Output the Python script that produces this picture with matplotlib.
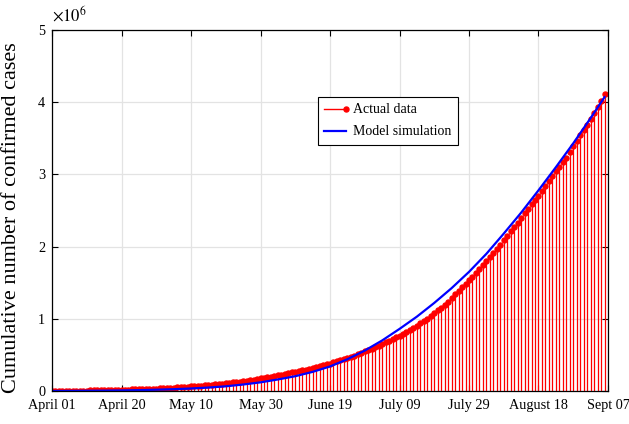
import numpy as np
import matplotlib
import matplotlib.pyplot as plt
import matplotlib.ticker as mtick
from matplotlib.lines import Line2D
from matplotlib.legend_handler import HandlerBase

matplotlib.use('agg')
plt.rcParams.update({
    "font.family": "Liberation Serif",
    "mathtext.fontset": "stix",
})

# cumulative confirmed cases, one value per day (160 days)
actual_cases = [
    1251, 1397, 1998, 2543, 2567, 3082, 3588, 4778, 5311, 5916,
    6725, 7598, 8446, 9205, 10453, 11487, 12322, 13430, 14352, 15722,
    17615, 18539, 20080, 21370, 23077, 24530, 26283, 27890, 29451, 31324,
    33062, 34863, 37257, 39699, 42505, 46437, 49400, 53005, 56351, 59695,
    62808, 67161, 70768, 74292, 78055, 81997, 85784, 90648, 95698, 100328,
    106475, 112028, 118226, 124794, 131423, 138536, 144950, 150793, 158086, 165386,
    173491, 181827, 190609, 198370, 207191, 216824, 226713, 236184, 246622, 257486,
    265928, 276146, 286605, 297535, 308993, 320922, 332424, 343091, 354065, 367264,
    380532, 395048, 410451, 425282, 440215, 456183, 473105, 490401, 508953, 528859,
    548318, 566840, 585481, 604641, 625544, 648315, 673165, 697413, 719665, 742417,
    767296, 793802, 820916, 849553, 878254, 906752, 936181, 968876, 1003832, 1038716,
    1077781, 1118043, 1155338, 1193078, 1238635, 1288108, 1337024, 1385635, 1435616, 1480073,
    1531669, 1583792, 1638870, 1695988, 1750723, 1803695, 1855745, 1908254, 1964536, 2027074,
    2088611, 2153010, 2215074, 2268675, 2329638, 2396637, 2461190, 2526192, 2589682, 2647663,
    2702742, 2767273, 2836925, 2905823, 2975701, 3044940, 3106348, 3167323, 3224547, 3310234,
    3387500, 3463972, 3542733, 3621245, 3691166, 3769523, 3853406, 3936747, 4023179, 4113811,
]
actual_days = list(range(len(actual_cases)))

# model curve (day, cases)
model_days = [0, 5, 10, 15, 20, 25, 30, 35, 40, 45, 50, 55, 60, 65, 70, 75, 80,
              85, 90, 95, 100, 105, 110, 115, 120, 125, 130, 135, 140, 145, 150, 155, 159]
model_cases = [0, 1000, 3000, 5000, 8000, 12000, 18000, 25000, 35000, 48000, 65000,
               90000, 120000, 160000, 205000, 265000, 340000, 440000, 560000, 700000,
               860000, 1030000, 1220000, 1425000, 1650000, 1900000, 2180000, 2470000,
               2780000, 3100000, 3430000, 3780000, 4070000]

tick_pos = [0, 20, 40, 60, 80, 100, 120, 140, 160]
tick_labels = ['April 01', 'April 20', 'May 10', 'May 30', 'June 19',
               'July 09', 'July 29', 'August 18', 'Sept 07']

RED = '#ff0000'
BLUE = '#0000ff'
MS = 3.6


# matlab-style stem legend entry: line with the dot at its right end
class StemLegend(HandlerBase):
    def create_artists(self, legend, orig_handle, xdescent, ydescent,
                       width, height, fontsize, trans):
        y = height / 2 - ydescent
        line = Line2D([-xdescent, width - xdescent], [y, y], color=RED, linewidth=1)
        dot = Line2D([width - xdescent], [y], color=RED, marker='o',
                     markersize=MS, linestyle='none')
        line.set_transform(trans)
        dot.set_transform(trans)
        return [line, dot]


fig = plt.figure(figsize=(6.29, 4.24), dpi=100)
ax = fig.add_axes([0.0827, 0.0778, 0.8839, 0.8514])

ml, sl, bl = ax.stem(actual_days, actual_cases, linefmt='r-', markerfmt='ro', basefmt=' ')
plt.setp(sl, linewidth=0.9, color=RED)
plt.setp(ml, markersize=MS, color=RED)
ax.plot(model_days, model_cases, color=BLUE, linewidth=1.6)

ax.set_xlim(0, 160)
ax.set_ylim(0, 5e6)
ax.set_xticks(tick_pos, tick_labels)
ax.set_yticks([0, 1e6, 2e6, 3e6, 4e6, 5e6])
ax.yaxis.set_major_formatter(mtick.FuncFormatter(lambda v, p: f'{v / 1e6:g}'))
ax.tick_params(direction='in', top=True, right=True, length=4, width=0.8,
               labelsize=10.3)
ax.tick_params(axis='x', pad=6)
ax.tick_params(axis='y', pad=5)
ax.grid(True, color='#e3e3e3', linewidth=0.9)
ax.set_axisbelow(True)
for s in ax.spines.values():
    s.set_linewidth(0.9)

ax.set_ylabel('Cumulative number of confirmed cases', fontsize=16)
ax.yaxis.set_label_coords(-0.056, 0.48)
ax.text(0.0, 1.012, r'$\times10^{6}$', transform=ax.transAxes, fontsize=12,
        ha='left', va='bottom')

stem_proxy = Line2D([], [], color=RED)
model_proxy = Line2D([], [], color=BLUE, linewidth=1.6)
leg = ax.legend([stem_proxy, model_proxy], ['Actual data', 'Model simulation'],
                handler_map={stem_proxy: StemLegend()},
                loc='upper left', bbox_to_anchor=(0.478, 0.814), fontsize=10,
                handlelength=1.6, handletextpad=0.5, labelspacing=0.65,
                borderpad=0.45, borderaxespad=0, fancybox=False, framealpha=1)
leg.get_frame().set_edgecolor('black')
leg.get_frame().set_linewidth(0.8)

fig.savefig('out.png', dpi=100)
